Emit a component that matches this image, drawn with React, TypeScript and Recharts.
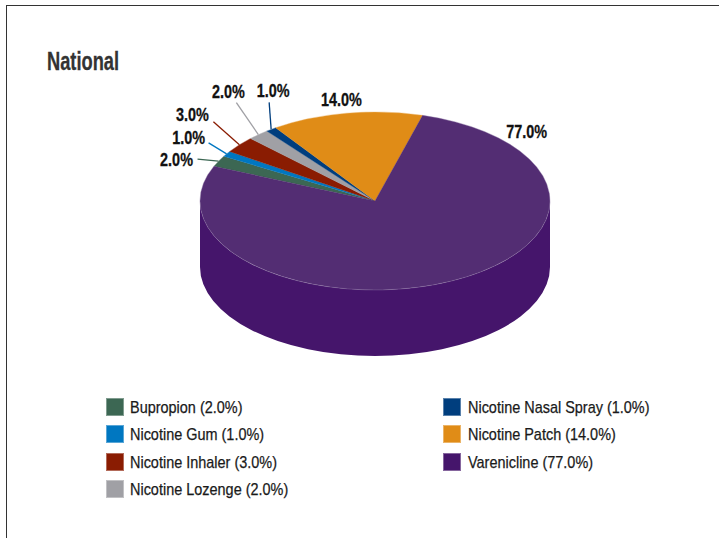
import { PieChart, Pie, Legend } from 'recharts'

const categories = [
  'Bupropion', 'Nicotine Gum', 'Nicotine Inhaler', 'Nicotine Lozenge',
  'Nicotine Nasal Spray', 'Nicotine Patch', 'Varenicline',
]
const shares = [2, 1, 3, 2, 1, 14, 77]
const sliceColors = ['#3C6753', '#0077C1', '#8A1C02', '#A0A0A5', '#003E7E', '#E08C17', '#45156B']
const topColors = ['#3C6753', '#0077C1', '#8A1C02', '#A0A0A5', '#003E7E', '#E08C17', '#532D73']

// label offset from the rim of each slice, and where its leader line stops
const labelOffsets = [
  { dx: -42, dy: -2, lineX: -21, lineY: -2 },
  { dx: -38, dy: -16.5, lineX: -18, lineY: -11 },
  { dx: -47, dy: -30, lineX: -26, lineY: -23 },
  { dx: -30, dy: -43, lineX: -22, lineY: -32 },
  { dx: 2, dy: -39, lineX: -2, lineY: -27 },
  { dx: -5, dy: -14, lineX: 0, lineY: 0 },
  { dx: 76, dy: -150, lineX: 0, lineY: 0 },
]

const WIDTH = 719
const HEIGHT = 538
const CX = 375
const CY = 201
const RADIUS = 175
const TILT = 89 / 175
const DEPTH = 66
const START_ANGLE = 157
const FONT = '"Liberation Sans", Arial, sans-serif'

const data = categories.map((name, i) => ({
  name,
  value: shares[i],
  fill: sliceColors[i],
  topFill: topColors[i],
}))

function rim(cx: number, cy: number, r: number, deg: number) {
  const a = (deg * Math.PI) / 180
  return { x: cx + r * Math.cos(a), y: cy - r * TILT * Math.sin(a) }
}

// side wall: only the part of the slice on the front half of the ellipse
function WallSlice(props: any) {
  const { cx, cy, outerRadius: r, startAngle, endAngle, fill } = props
  const lo = Math.min(startAngle, endAngle)
  const hi = Math.max(startAngle, endAngle)
  const paths: string[] = []
  for (let k = -2; k <= 2; k++) {
    const a0 = Math.max(lo, -180 + 360 * k)
    const a1 = Math.min(hi, 360 * k)
    if (a0 >= a1) continue
    const p0 = rim(cx, cy, r, a0)
    const p1 = rim(cx, cy, r, a1)
    const ry = r * TILT
    paths.push(
      `M${p0.x},${p0.y} A${r},${ry} 0 0 0 ${p1.x},${p1.y} ` +
      `L${p1.x},${p1.y + DEPTH} A${r},${ry} 0 0 1 ${p0.x},${p0.y + DEPTH} Z`,
    )
  }
  return <path d={paths.join(' ')} fill={fill} stroke="none" />
}

// top face of a slice, squashed into the ellipse, with a faint light rim
function TopSlice(props: any) {
  const { cx, cy, outerRadius: r, startAngle, endAngle, payload } = props
  const p0 = rim(cx, cy, r, startAngle)
  const p1 = rim(cx, cy, r, endAngle)
  const large = Math.abs(startAngle - endAngle) > 180 ? 1 : 0
  const arc = `A${r},${r * TILT} 0 ${large} 1 ${p1.x},${p1.y}`
  return (
    <g>
      <path d={`M${cx},${cy} L${p0.x},${p0.y} ${arc} Z`} fill={payload.topFill} stroke={payload.topFill} strokeWidth={0.3} />
      <path d={`M${p0.x},${p0.y} ${arc}`} fill="none" stroke="rgba(255,255,255,0.14)" strokeWidth={1} />
    </g>
  )
}

function SliceLabel(props: any) {
  const { cx, cy, outerRadius: r, midAngle, index } = props
  const edge = rim(cx, cy, r, midAngle)
  const off = labelOffsets[index]
  const x = edge.x + off.dx
  const y = edge.y + off.dy
  return (
    <g>
      {(off.lineX !== 0 || off.lineY !== 0) && (
        <line
          x1={edge.x}
          y1={edge.y}
          x2={edge.x + off.lineX}
          y2={edge.y + off.lineY}
          stroke={sliceColors[index]}
          strokeWidth={1.3}
        />
      )}
      <text
        transform={`translate(${x},${y}) scale(0.8,1)`}
        textAnchor="middle"
        dominantBaseline="central"
        fontFamily={FONT}
        fontWeight={700}
        fontSize={18}
        fill="#111"
        stroke="#111"
        strokeWidth={0.3}
      >
        {shares[index].toFixed(1)}%
      </text>
    </g>
  )
}

function LegendBlock() {
  return (
    <div style={{ position: 'relative', width: WIDTH, height: 120 }}>
      {categories.map((name, i) => {
        const col = i < 4 ? 0 : 1
        const row = col === 0 ? i : i - 4
        return (
          <div
            key={name}
            style={{
              position: 'absolute',
              left: col === 0 ? 106 : 443,
              top: Math.round(row * 27.3),
              display: 'flex',
              alignItems: 'center',
              height: 18,
              whiteSpace: 'nowrap',
            }}
          >
            <span
              style={{
                width: 18,
                height: 18,
                background: sliceColors[i],
                border: '1px solid rgba(255,255,255,0.35)',
                boxSizing: 'border-box',
                marginRight: col === 0 ? 6 : 7,
              }}
            />
            <span
              style={{
                display: 'inline-block',
                fontFamily: FONT,
                fontSize: 17,
                color: '#1a1a1a',
                WebkitTextStroke: '0.25px #1a1a1a',
                transform: 'translateY(1px) scaleX(0.85)',
                transformOrigin: 'left center',
              }}
            >
              {name} ({shares[i].toFixed(1)}%)
            </span>
          </div>
        )
      })}
    </div>
  )
}

export default function App() {
  return (
    <div style={{ position: 'absolute', left: 0, top: 0, width: WIDTH, height: HEIGHT, background: '#fff', overflow: 'hidden' }}>
      <div style={{ position: 'absolute', left: 6, top: 5, width: WIDTH, height: HEIGHT, borderLeft: '1px solid #333', borderTop: '1px solid #333' }} />
      <div
        style={{
          position: 'absolute',
          left: 47,
          top: 47,
          fontFamily: FONT,
          fontWeight: 700,
          fontSize: 25,
          lineHeight: '28px',
          color: '#333',
          WebkitTextStroke: '0.3px #333',
          transform: 'scaleX(0.73)',
          transformOrigin: 'left center',
        }}
      >
        National
      </div>
      <PieChart width={WIDTH} height={HEIGHT} margin={{ top: 0, right: 0, bottom: 0, left: 0 }}>
        <Pie
          data={data}
          dataKey="value"
          nameKey="name"
          cx={CX}
          cy={CY}
          outerRadius={RADIUS}
          startAngle={START_ANGLE}
          endAngle={START_ANGLE - 360}
          shape={WallSlice}
          legendType="none"
          isAnimationActive={false}
        />
        <Pie
          data={data}
          dataKey="value"
          nameKey="name"
          cx={CX}
          cy={CY}
          outerRadius={RADIUS}
          startAngle={START_ANGLE}
          endAngle={START_ANGLE - 360}
          shape={TopSlice}
          label={SliceLabel}
          labelLine={false}
          isAnimationActive={false}
        />
        <Legend content={LegendBlock} wrapperStyle={{ left: 0, top: 398, width: WIDTH }} />
      </PieChart>
    </div>
  )
}
